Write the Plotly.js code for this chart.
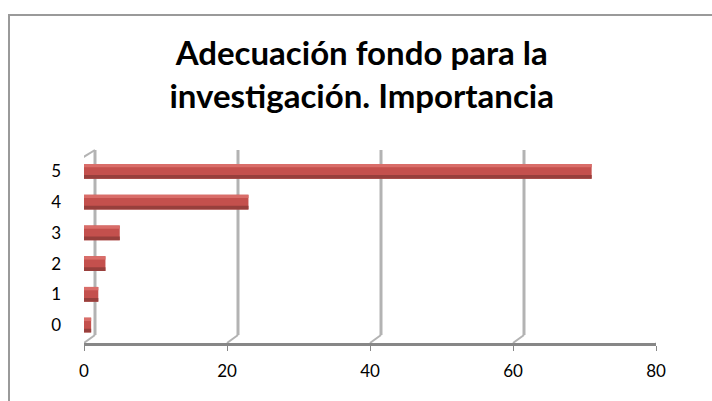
<!DOCTYPE html>
<html>
<head>
<meta charset="utf-8">
<script src="https://cdn.plot.ly/plotly-3.0.1.min.js"></script>
<style>html,body{margin:0;padding:0;background:#fff;}#chart{width:712px;height:401px;}</style>
</head>
<body>
<div id="chart"></div>
<script>
// ---- data ----
const categories = ['0', '1', '2', '3', '4', '5'];
const values = [1, 2, 3, 5, 23, 71];
const xTicks = [0, 20, 40, 60, 80];
const titleText = 'Adecuación fondo para la<br>investigación. Importancia';

// ---- layout constants ----
const W = 712, H = 401;
const L = 84, R = 56, T = 156, B = 58;
const plotW = W - L - R, plotH = H - T - B;
const px2x = p => (p - L) / plotW;
const py2y = p => (H - B - p) / plotH;
const DX = 11, DY = 8;     // 3D depth offset (pixels)
const WALL_H = 193;        // back wall height in pixels above floor
const gridColor = '#b3b3b3';
const axisColor = '#878787';

const base = {
  type: 'bar', orientation: 'h', y: categories, x: values,
  hoverinfo: 'skip', showlegend: false
};
const traces = [
  Object.assign({}, base, {width: 0.48, offset: -0.24, marker: {color: '#C4504D', line: {width: 0}}}),
  Object.assign({}, base, {width: 0.11, offset: 0.13, marker: {color: '#D96D69', line: {width: 0}}}),
  Object.assign({}, base, {width: 0.12, offset: -0.24, marker: {color: '#973F3C', line: {width: 0}}})
];

const shapes = [];
// back-wall gridlines + floor connectors
xTicks.forEach(v => {
  shapes.push({type: 'line', layer: 'below', xref: 'x', yref: 'paper',
    xsizemode: 'pixel', ysizemode: 'pixel', xanchor: v, yanchor: 0,
    x0: DX, x1: DX, y0: DY, y1: WALL_H, line: {color: gridColor, width: 3}});
  shapes.push({type: 'line', layer: 'below', xref: 'x', yref: 'paper',
    xsizemode: 'pixel', ysizemode: 'pixel', xanchor: v, yanchor: 0,
    x0: 0, x1: DX, y0: 0, y1: DY, line: {color: gridColor, width: 2}});
});
// left wall front edge and top edge
shapes.push({type: 'line', layer: 'below', xref: 'x', yref: 'paper',
  xsizemode: 'pixel', ysizemode: 'pixel', xanchor: 0, yanchor: 0,
  x0: -2, x1: -2, y0: 0, y1: WALL_H - DY, line: {color: gridColor, width: 2}});
shapes.push({type: 'line', layer: 'below', xref: 'x', yref: 'paper',
  xsizemode: 'pixel', ysizemode: 'pixel', xanchor: 0, yanchor: 0,
  x0: -2, x1: DX, y0: WALL_H - DY, y1: WALL_H, line: {color: gridColor, width: 2}});
// chart outer border
shapes.push({type: 'rect', layer: 'below', xref: 'paper', yref: 'paper',
  x0: px2x(9), x1: px2x(720), y0: py2y(410), y1: py2y(15),
  line: {color: '#9a9a9a', width: 2}, fillcolor: 'rgba(0,0,0,0)'});

const layout = {
  width: W, height: H, autosize: false,
  margin: {l: L, r: R, t: T, b: B, pad: 0},
  paper_bgcolor: '#ffffff', plot_bgcolor: 'rgba(0,0,0,0)',
  barmode: 'overlay',
  font: {family: 'Lato, "Open Sans", sans-serif', color: '#000000', size: 17},
  title: {
    text: titleText,
    font: {family: 'Lato, "Open Sans", sans-serif', size: 33, color: '#000000', weight: 'bold'},
    x: 0.508, xref: 'container', xanchor: 'center',
    y: 1 - 65 / H, yref: 'container', yanchor: 'top'
  },
  xaxis: {
    range: [0, 80], tickvals: xTicks, ticktext: xTicks.map(String),
    showgrid: false, zeroline: false, showline: true,
    linecolor: axisColor, linewidth: 3,
    ticks: 'outside', ticklen: 5, tickwidth: 1, tickcolor: axisColor,
    tickfont: {size: 17, color: '#000000'}, ticklabelstandoff: 6, fixedrange: true
  },
  yaxis: {
    type: 'category', categoryorder: 'array', categoryarray: categories,
    range: [-0.584, 5.5], showgrid: false, zeroline: false, showline: false,
    ticks: '', tickfont: {size: 17, color: '#000000'}, ticklabelstandoff: 22, fixedrange: true
  },
  shapes: shapes
};

Plotly.newPlot('chart', traces, layout, {staticPlot: true, displayModeBar: false});
</script>
</body>
</html>
